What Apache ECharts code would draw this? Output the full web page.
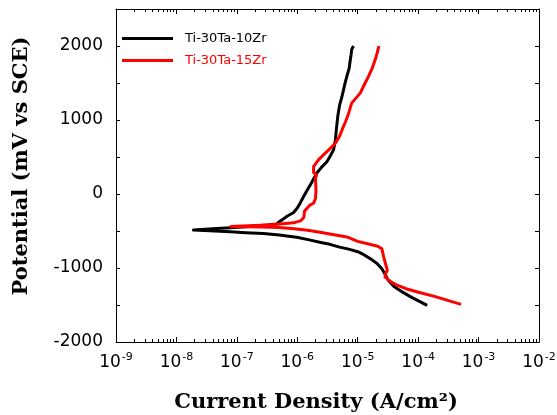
<!DOCTYPE html>
<html>
<head>
<meta charset="utf-8">
<script src="https://cdn.jsdelivr.net/npm/echarts@6/dist/echarts.min.js"></script>
<style>html,body{margin:0;padding:0;background:#fff}#c{width:557px;height:415px}</style>
</head>
<body>
<div id="c"></div>
<script>
// Ti-30Ta-10Zr (black): current density (A/cm2) and potential (mV vs SCE)
const current10 = [1.41e-4,1.05e-4,7.94e-5,5.62e-5,3.98e-5,3.16e-5,2.82e-5,2.51e-5,2.09e-5,1.66e-5,1.26e-5,1.0e-5,7.08e-6,5.01e-6,3.47e-6,2.45e-6,1.58e-6,9.77e-7,5.01e-7,2.75e-7,1.41e-7,7.76e-8,3.55e-8,1.91e-8,
  3.98e-8,7.76e-8,1.58e-7,3.16e-7,4.57e-7,5.01e-7,5.62e-7,6.76e-7,8.71e-7,1.0e-6,1.12e-6,1.26e-6,1.48e-6,1.74e-6,2.09e-6,2.51e-6,3.09e-6,3.55e-6,3.98e-6,4.27e-6,4.47e-6,4.68e-6,5.01e-6,5.50e-6,6.17e-6,6.76e-6,7.24e-6,7.41e-6,7.76e-6,7.94e-6,8.51e-6];
const potential10 = [-1505,-1450,-1400,-1330,-1250,-1160,-1080,-1010,-940,-880,-820,-780,-745,-718,-680,-655,-620,-585,-555,-535,-522,-511,-498,-488,
  -470,-455,-440,-420,-405,-375,-350,-300,-250,-190,-120,-40,60,160,280,360,436,520,596,730,900,1050,1200,1318,1499,1620,1700,1771,1880,1951,2000];
// Ti-30Ta-15Zr (red)
const current15 = [5.13e-4,3.09e-4,1.86e-4,9.77e-5,6.31e-5,4.47e-5,3.55e-5,2.82e-5,2.95e-5,3.09e-5,2.88e-5,2.69e-5,2.51e-5,2.14e-5,1.58e-5,1.0e-5,6.61e-6,4.07e-6,2.51e-6,1.48e-6,8.91e-7,5.01e-7,2.51e-7,1.26e-7,7.94e-8,
  1.58e-7,3.16e-7,4.57e-7,6.31e-7,8.71e-7,1.15e-6,1.29e-6,1.32e-6,1.62e-6,1.86e-6,2.0e-6,2.04e-6,2.0e-6,2.09e-6,1.86e-6,1.86e-6,2.24e-6,2.88e-6,3.55e-6,4.27e-6,5.01e-6,5.50e-6,6.31e-6,7.08e-6,7.94e-6,1.10e-5,1.29e-5,1.51e-5,1.74e-5,1.95e-5,2.09e-5,2.24e-5];
const potential15 = [-1491,-1437,-1383,-1324,-1280,-1230,-1188,-1120,-1060,-1030,-940,-850,-740,-705,-680,-640,-580,-550,-520,-490,-470,-452,-447,-444,-440,
  -430,-418,-410,-400,-390,-360,-310,-230,-150,-125,-60,54,212,260,290,370,461,550,620,686,780,866,980,1092,1228,1363,1480,1589,1700,1816,1900,2000];
const seriesNames = ['Ti-30Ta-10Zr','Ti-30Ta-15Zr'];
const seriesColors = ['#000000','#ff0000'];
const xMajorTicks = [1e-9,1e-8,1e-7,1e-6,1e-5,1e-4,1e-3,1e-2];
const yLabelValues = [-2000,-1000,0,1000,2000];
const xMinorTicks = [];
xMajorTicks.slice(0,7).forEach(d => { for (let k = 2; k <= 9; k++) xMinorTicks.push(+(k*d).toPrecision(3)); });

const pair = (xs, ys) => xs.map((x,i) => [x, ys[i]]);
const grid = {left:116, right:18, top:9, bottom:73, containLabel:false, outerBoundsMode:'none'};
const tickFont = 'DejaVu Sans';
const titleFont = 'DejaVu Serif';
const axisLine = {show:true, onZero:false, lineStyle:{color:'#000', width:1}};

const chart = echarts.init(document.getElementById('c'), null, {renderer:'canvas'});
chart.setOption({
  animation:false,
  backgroundColor:'#fff',
  grid: grid,
  legend: {
    left:122, top:32, orient:'vertical', padding:0, itemWidth:51, itemHeight:3, itemGap:9,
    icon:'rect',
    data: seriesNames.map((n,i) => ({name:n, textStyle:{color:seriesColors[i]}})),
    textStyle:{fontFamily:tickFont, fontSize:13, padding:[0,0,0,7]}
  },
  xAxis: [
    {type:'log', logBase:10, min:1e-9, max:1e-2, position:'bottom',
     name:'Current Density (A/cm²)', nameLocation:'middle', nameGap:50,
     nameTextStyle:{fontFamily:titleFont, fontWeight:'bold', fontSize:21, color:'#000', padding:[0,23,0,0]},
     axisLine:axisLine, splitLine:{show:false},
     axisTick:{show:true, inside:true, length:5, customValues:xMajorTicks, lineStyle:{color:'#000'}},
     axisLabel:{show:true, margin:10, customValues:xMajorTicks, color:'#000', fontFamily:tickFont, fontSize:17,
       formatter: v => '{b|10}{s|' + Math.round(Math.log10(v)) + '}',
       rich:{b:{fontFamily:tickFont, fontSize:17, color:'#000', verticalAlign:'bottom'},
             s:{fontFamily:tickFont, fontSize:11, color:'#000', verticalAlign:'bottom', padding:[0,0,8,1]}}}
    },
    {type:'log', logBase:10, min:1e-9, max:1e-2, position:'bottom', axisLine:{show:false, onZero:false}, splitLine:{show:false},
     axisTick:{show:true, inside:true, length:3, customValues:xMinorTicks, lineStyle:{color:'#000'}},
     axisLabel:{show:false}},
    {type:'log', logBase:10, min:1e-9, max:1e-2, position:'top', axisLine:axisLine, splitLine:{show:false},
     axisTick:{show:true, inside:true, length:5, customValues:xMajorTicks, lineStyle:{color:'#000'}},
     axisLabel:{show:false}},
    {type:'log', logBase:10, min:1e-9, max:1e-2, position:'top', axisLine:{show:false, onZero:false}, splitLine:{show:false},
     axisTick:{show:true, inside:true, length:3, customValues:xMinorTicks, lineStyle:{color:'#000'}},
     axisLabel:{show:false}}
  ],
  yAxis: [
    {type:'value', min:-2000, max:2500, interval:500, position:'left',
     name:'Potential (mV vs SCE)', nameLocation:'middle', nameGap:84,
     nameTextStyle:{fontFamily:titleFont, fontWeight:'bold', fontSize:21, color:'#000', padding:[0,0,0,19]},
     axisLine:axisLine, splitLine:{show:false},
     axisTick:{show:true, inside:true, length:4, lineStyle:{color:'#000'}},
     axisLabel:{show:true, margin:13, customValues:yLabelValues, color:'#000', fontFamily:tickFont, fontSize:17,
       formatter: v => String(v)}
    },
    {type:'value', min:-2000, max:2500, interval:500, position:'right',
     axisLine:axisLine, splitLine:{show:false},
     axisTick:{show:true, inside:true, length:4, lineStyle:{color:'#000'}},
     axisLabel:{show:false}}
  ],
  series: [
    {name:seriesNames[0], type:'line', xAxisIndex:0, yAxisIndex:0, data:pair(current10, potential10),
     symbol:'none', smooth:false, color:seriesColors[0], lineStyle:{width:3, color:seriesColors[0], join:'round'}},
    {name:seriesNames[1], type:'line', xAxisIndex:0, yAxisIndex:0, data:pair(current15, potential15),
     symbol:'none', smooth:false, color:seriesColors[1], lineStyle:{width:3, color:seriesColors[1], join:'round'}}
  ]
});
</script>
</body>
</html>
